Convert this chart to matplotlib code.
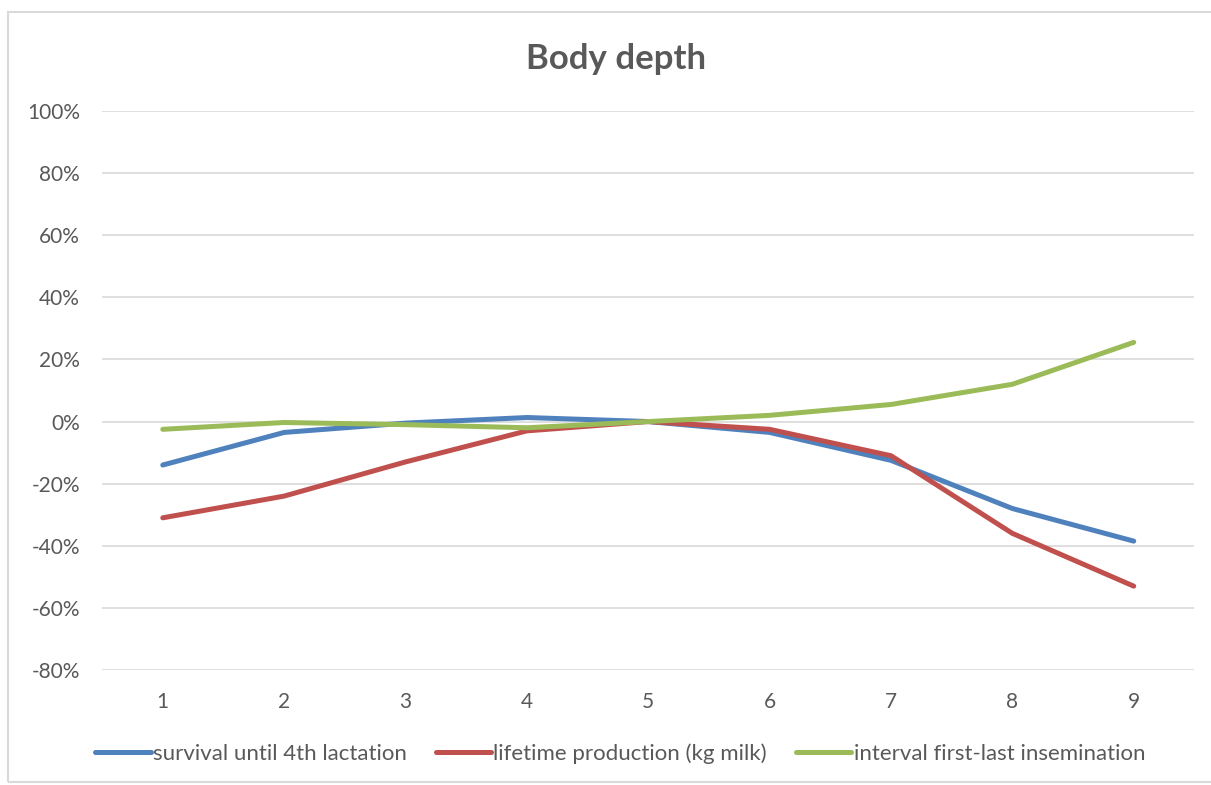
import matplotlib.pyplot as plt
from matplotlib.patches import Rectangle
from matplotlib.ticker import FuncFormatter

plt.rcParams['font.family'] = ['Lato', 'DejaVu Sans']

# Dados
classes = [1, 2, 3, 4, 5, 6, 7, 8, 9]
survival = [-0.14, -0.035, -0.005, 0.013, 0.0, -0.035, -0.125, -0.28, -0.385]
lifetime = [-0.31, -0.24, -0.13, -0.03, 0.0, -0.025, -0.11, -0.36, -0.53]
interval = [-0.025, -0.003, -0.01, -0.02, 0.0, 0.02, 0.055, 0.12, 0.255]

labels = ['survival until 4th lactation', 'lifetime production (kg milk)',
          'interval first-last insemination']
cores = ['#4F81BD', '#C0504D', '#9BBB59']

fig = plt.figure(figsize=(12.11, 7.85), dpi=100)
fig.patches.append(Rectangle((8 / 1211, 3 / 785), 1.0, 1 - 15 / 785, transform=fig.transFigure,
                             fill=False, edgecolor='#D9D9D9', linewidth=1.5))

ax = fig.add_axes([0.0843, 0.1465, 0.902, 0.7121])
for serie, lab, cor in zip([survival, lifetime, interval], labels, cores):
    ax.plot(classes, serie, color=cor, linewidth=3.6, label=lab, solid_capstyle='round')

ax.set_xlim(0.5, 9.5)
ax.set_ylim(-0.8, 1.0)
ax.set_yticks([i / 10 for i in range(-8, 11, 2)])
ax.set_xticks(classes)
ax.yaxis.set_major_formatter(FuncFormatter(lambda v, p: f'{v * 100:.0f}%'))
ax.grid(axis='y', color='#D9D9D9', linewidth=1.2)
ax.set_axisbelow(True)
for s in ax.spines.values():
    s.set_visible(False)
ax.tick_params(length=0, labelsize=15, colors='#595959')
ax.tick_params(axis='y', pad=16)
ax.tick_params(axis='x', pad=16)

fig.text(0.509, 0.925, 'Body depth', ha='center', va='center', fontsize=25,
         fontweight='bold', color='#595959')

fig.legend(loc='center', bbox_to_anchor=(0.512, 0.04), ncol=3, frameon=False,
           fontsize=16, labelcolor='#595959', handlelength=2.5, handletextpad=0.1,
           columnspacing=1.3)

plt.savefig('out.png', dpi=100)
